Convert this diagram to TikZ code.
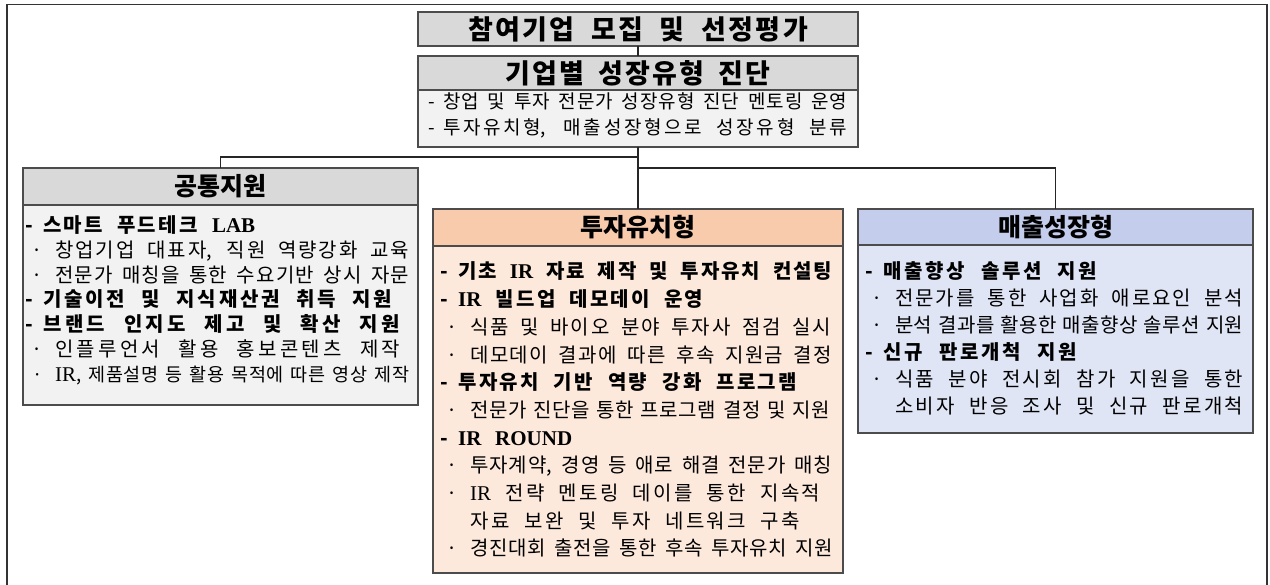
\documentclass[tikz,border=0pt]{standalone}
\usepackage{fontspec}
\setmainfont{Noto Sans CJK KR}
\newfontfamily\lat{Liberation Serif}
\usetikzlibrary{positioning}

\definecolor{hdgray}{HTML}{D9D9D9}
\definecolor{bdgray}{HTML}{F2F2F2}
\definecolor{hdorange}{HTML}{F8CBAD}
\definecolor{bdorange}{HTML}{FDE9DC}
\definecolor{hdblue}{HTML}{C4CEEC}
\definecolor{bdblue}{HTML}{DFE5F5}

% glue between hangul letters, so a stretched line spreads its letters too
\chardef\hgclass=42
\count255="AC00
\loop \XeTeXcharclass\count255=\hgclass \ifnum\count255<"D7A3 \advance\count255 by 1 \repeat
\XeTeXinterchartoks\hgclass\hgclass={\hskip 0pt plus .25fil minus .6pt\relax}

\newcommand\en[1]{{\lat\fontsize{21}{21}\selectfont #1}}
\newcommand\fitline[2]{\makebox[#1][s]{\XeTeXinterchartokenstate=1
  \spaceskip=.25em plus 1fil minus .12em\relax #2}}
\newcommand\dashitem[1]{{\bfseries\makebox[8pt][l]{-}\hspace*{10pt}#1}}
\newcommand\dotitem[1]{\hspace*{9pt}\makebox[6pt]{·}\hspace*{15pt}#1}
\newcommand\contitem[1]{\hspace*{30pt}#1}

\tikzset{
  box/.style={draw=black!70,line width=1.6pt,rectangle,inner sep=0pt,outer sep=0pt},
  hd/.style={box,font=\bfseries\fontsize{25}{30}\selectfont},
  txt/.style={anchor=base west,inner sep=0pt,align=left,text width=420pt},
  link/.style={line width=1.2pt,draw=black!85},
  frame/.style={line width=1.5pt,draw=black!80}
}

\begin{document}
\begin{tikzpicture}[x=1pt,y=-1pt]
\useasboundingbox (0,0) rectangle (1270,585);
\draw[frame] (7,600) -- (7,4.5) -- (1267,4.5) -- (1267,600);

%% top
\node[hd,fill=hdgray,minimum width=440pt,minimum height=34pt,font=\bfseries\fontsize{27}{30}\selectfont]
  (recruit) at (638,29) {\fitline{340pt}{참여기업 모집 및 선정평가}};
\node[hd,fill=hdgray,minimum width=440pt,minimum height=34pt,font=\bfseries\fontsize{27}{30}\selectfont]
  (diag) at (638,73) {\fitline{265pt}{기업별 성장유형 진단}};
\node[box,fill=bdgray,minimum width=440pt,minimum height=57pt,below=0pt of diag] (diagbox) {};
\node[txt,font=\fontsize{19}{26}\selectfont] (diagtxt) at (428,109) {
  \fitline{419pt}{\makebox[6pt][l]{-}\hspace*{9pt}창업 및 투자 전문가 성장유형 진단 멘토링 운영}\\
  \fitline{419pt}{\makebox[6pt][l]{-}\hspace*{9pt}투자유치형, 매출성장형으로 성장유형 분류}};

%% groups
\foreach \grp/\x/\y/\w/\hh/\bh/\col/\title in
  {com/220.5/186.5/395/37/200/gray/공통지원,
   inv/638/227.5/410/37/327/orange/투자유치형,
   sal/1055.5/227/395/36/188/blue/매출성장형}
{
  \node[hd,fill=hd\col,minimum width=\w pt,minimum height=\hh pt] (\grp hd) at (\x,\y) {\title};
  \node[box,fill=bd\col,minimum width=\w pt,minimum height=\bh pt,below=0pt of \grp hd] (\grp box) {};
}

\node[txt,font=\fontsize{20}{24.8}\selectfont] (comtxt) at (25,232.5) {
  \fitline{230pt}{\dashitem{스마트 푸드테크 \en{LAB}}}\\
  \fitline{384pt}{\dotitem{창업기업 대표자, 직원 역량강화 교육}}\\
  \fitline{384pt}{\dotitem{전문가 매칭을 통한 수요기반 상시 자문}}\\
  \fitline{367pt}{\dashitem{기술이전 및 지식재산권 취득 지원}}\\
  \fitline{375pt}{\dashitem{브랜드 인지도 제고 및 확산 지원}}\\
  \fitline{375pt}{\dotitem{인플루언서 활용 홍보콘텐츠 제작}}\\
  \fitline{384pt}{\fontsize{18.5}{20}\selectfont\dotitem{\en{IR}, 제품설명 등 활용 목적에 따른 영상 제작}}};

\node[txt,font=\fontsize{20}{27.7}\selectfont] (invtxt) at (440,279) {
  \fitline{392pt}{\dashitem{기초 \en{IR} 자료 제작 및 투자유치 컨설팅}}\\
  \fitline{263pt}{\dashitem{\en{IR} 빌드업 데모데이 운영}}\\
  \fitline{391pt}{\dotitem{식품 및 바이오 분야 투자사 점검 실시}}\\
  \fitline{392pt}{\dotitem{데모데이 결과에 따른 후속 지원금 결정}}\\
  \fitline{357pt}{\dashitem{투자유치 기반 역량 강화 프로그램}}\\
  \fitline{390pt}{\dotitem{전문가 진단을 통한 프로그램 결정 및 지원}}\\
  \fitline{132pt}{\dashitem{\en{IR ROUND}}}\\
  \fitline{392pt}{\dotitem{투자계약, 경영 등 애로 해결 전문가 매칭}}\\
  \fitline{380pt}{\dotitem{\en{IR} 전략 멘토링 데이를 통한 지속적}}\\
  \fitline{360pt}{\contitem{자료 보완 및 투자 네트워크 구축}}\\
  \fitline{393pt}{\dotitem{경진대회 출전을 통한 후속 투자유치 지원}}};

\node[txt,font=\fontsize{20}{27}\selectfont] (saltxt) at (865,279) {
  \fitline{232pt}{\dashitem{매출향상 솔루션 지원}}\\
  \fitline{378pt}{\dotitem{전문가를 통한 사업화 애로요인 분석}}\\
  \fitline{378pt}{\dotitem{분석 결과를 활용한 매출향상 솔루션 지원}}\\
  \fitline{212pt}{\dashitem{신규 판로개척 지원}}\\
  \fitline{378pt}{\dotitem{식품 분야 전시회 참가 지원을 통한}}\\
  \fitline{378pt}{\contitem{소비자 반응 조사 및 신규 판로개척}}};

%% connectors
\coordinate (jl) at (638,157);
\coordinate (jr) at (638,168);
\draw[link] (recruit) -- (diag);
\draw[link] (diagbox) -- (invhd);
\draw[link] (jl) -| (comhd);
\draw[link] (jr) -| (salhd);
\end{tikzpicture}
\end{document}
